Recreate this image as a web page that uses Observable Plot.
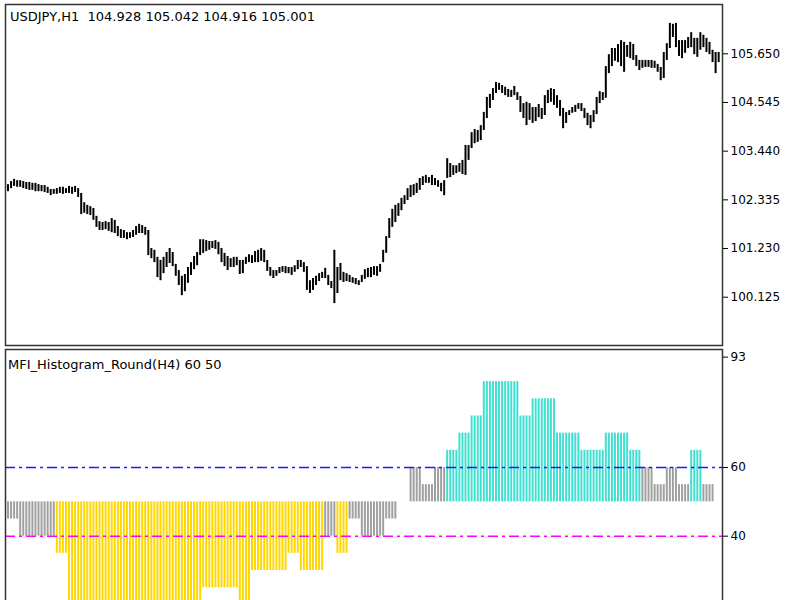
<!DOCTYPE html>
<html><head><meta charset="utf-8">
<script src="https://cdn.jsdelivr.net/npm/d3@7"></script>
<script src="https://cdn.jsdelivr.net/npm/@observablehq/plot@0.6"></script>
<style>
html,body{margin:0;padding:0;overflow:hidden;background:#fff;width:800px;height:600px}
#top{position:absolute;left:0;top:0}
#bot{position:absolute;left:0;top:346px}
.lbl{position:absolute;font-family:"DejaVu Sans",sans-serif;font-size:13px;color:#000;white-space:pre;line-height:1}
</style></head><body>
<div id="top"></div><div id="bot"></div>
<div class="lbl" id="t1" style="left:10px;top:10px"></div>
<div class="lbl" id="t2" style="left:8px;top:358px"></div>
<script>
const symbolTitle = "USDJPY,H1";
const headerOHLC = ["104.928", "105.042", "104.916", "105.001"];
const indicatorTitle = "MFI_Histogram_Round(H4) 60 50";

const highs = [
102.68,102.75,102.80,102.77,102.77,102.75,102.73,102.73,102.71,102.71,
102.68,102.66,102.66,102.62,102.57,102.57,102.59,102.62,102.62,102.59,
102.64,102.62,102.64,102.59,102.48,102.27,102.21,102.18,102.14,101.96,
101.84,101.82,101.84,101.82,101.91,101.87,101.73,101.66,101.64,101.59,
101.59,101.64,101.73,101.78,101.75,101.71,101.64,101.23,101.19,101.03,
100.96,101.03,101.14,101.23,101.14,100.87,100.73,100.60,100.64,100.80,
100.91,101.05,101.14,101.43,101.43,101.41,101.39,101.39,101.41,101.37,
101.23,101.12,101.05,101.00,101.03,101.03,100.96,100.96,101.03,101.09,
101.07,101.16,101.19,101.23,101.19,100.96,100.80,100.73,100.73,100.80,
100.82,100.82,100.80,100.80,100.84,100.96,100.96,100.91,100.82,100.50,
100.55,100.60,100.66,100.69,100.78,100.62,100.48,101.19,100.80,100.89,
100.69,100.66,100.62,100.57,100.55,100.50,100.62,100.75,100.78,100.80,
100.82,100.82,100.87,101.19,101.50,101.91,102.12,102.21,102.25,102.37,
102.43,102.59,102.66,102.68,102.71,102.82,102.86,102.89,102.84,102.89,
102.82,102.77,102.71,102.77,103.27,103.16,103.11,103.11,103.16,103.23,
103.57,103.57,103.86,103.93,103.91,104.02,104.32,104.66,104.73,104.86,
105.00,104.98,104.93,104.89,104.84,104.82,104.91,104.77,104.68,104.52,
104.55,104.52,104.43,104.43,104.50,104.41,104.70,104.82,104.86,104.84,
104.70,104.59,104.41,104.32,104.36,104.43,104.48,104.52,104.52,104.41,
104.30,104.25,104.36,104.66,104.79,104.77,105.36,105.63,105.77,105.77,
105.86,105.95,105.91,105.84,105.91,105.86,105.61,105.50,105.50,105.50,
105.50,105.50,105.48,105.41,105.34,105.68,105.88,106.34,106.32,106.34,
105.95,105.95,105.95,106.02,106.13,106.00,106.00,106.13,106.07,106.00,
105.91,105.73,105.68,105.68];

const lows = [
102.52,102.59,102.64,102.62,102.62,102.59,102.57,102.55,102.55,102.52,
102.52,102.52,102.50,102.48,102.43,102.46,102.46,102.48,102.46,102.48,
102.48,102.46,102.50,102.39,102.00,102.03,102.00,101.98,101.87,101.71,
101.64,101.64,101.66,101.62,101.59,101.57,101.50,101.46,101.46,101.43,
101.46,101.48,101.53,101.57,101.57,101.53,101.07,101.00,100.91,100.57,
100.50,100.66,100.80,100.89,100.82,100.60,100.39,100.16,100.25,100.44,
100.62,100.75,100.84,101.07,101.12,101.16,101.19,101.23,101.21,101.09,
100.91,100.82,100.73,100.80,100.80,100.84,100.64,100.66,100.87,100.91,
100.89,100.91,100.91,100.94,100.91,100.71,100.60,100.55,100.60,100.66,
100.69,100.66,100.66,100.62,100.69,100.75,100.80,100.69,100.28,100.21,
100.28,100.39,100.48,100.55,100.55,100.39,100.32,99.98,100.21,100.50,
100.46,100.48,100.46,100.44,100.41,100.39,100.46,100.53,100.57,100.57,
100.62,100.60,100.69,100.91,101.12,101.46,101.71,101.82,101.96,102.09,
102.23,102.32,102.39,102.43,102.48,102.55,102.66,102.71,102.71,102.66,
102.66,102.62,102.52,102.43,102.82,102.84,102.89,102.93,102.96,102.91,
102.89,103.23,103.50,103.61,103.64,103.68,103.91,104.18,104.41,104.59,
104.75,104.82,104.75,104.70,104.66,104.66,104.70,104.59,104.32,104.18,
104.02,104.14,104.07,104.11,104.20,104.16,104.25,104.52,104.55,104.48,
104.41,104.23,103.95,104.07,104.25,104.30,104.32,104.39,104.34,104.18,
104.02,103.95,104.09,104.27,104.52,104.59,104.64,105.20,105.36,105.48,
105.45,105.36,105.23,105.57,105.54,105.50,105.36,105.27,105.32,105.34,
105.34,105.32,105.32,105.23,105.04,105.09,105.50,105.77,106.02,105.79,
105.59,105.54,105.66,105.77,105.79,105.63,105.57,105.73,105.79,105.68,
105.63,105.45,105.20,105.45];

const priceTicks = [100.125, 101.230, 102.335, 103.440, 104.545, 105.650];

// MFI (H4), rounded to 5, one value per H4 bar (= 4 H1 bars)
const mfiH4 = [45,40,40,40,35,20,20,20,20,20,20,20,20,20,20,20,25,25,25,20,
30,30,30,35,30,30,40,35,45,40,40,45,50,60,55,60,65,70,75,85,
85,85,75,80,80,70,70,65,65,70,70,65,60,55,60,55,65,55];
const barsPerH4 = 4;
const upperLevel = 60;
const lowerLevel = 40;
const midLevel = 50;
const mfiTicks = [60, 40];
const mfiMaxTick = [93];

const colUp = "#40e0d0", colDown = "#ffd700", colFlat = "#a0a0a0";

document.getElementById("t1").textContent = symbolTitle + "  " + headerOHLC.join(" ");
document.getElementById("t2").textContent = indicatorTitle;

const bars = highs.map((h, i) => ({i, high: h, low: lows[i]}));
const hist = mfiH4.flatMap((v, g) => d3.range(barsPerH4).map(j => ({i: g * barsPerH4 + j, v})));

const xDomain = [-0.82, 234.26];
const font = {fontFamily: "DejaVu Sans, sans-serif", fontSize: "12px", color: "#000", background: "transparent", overflow: "visible"};

const priceChart = Plot.plot({
  width: 800, height: 348,
  marginLeft: 5, marginRight: 78, marginTop: 4, marginBottom: 3,
  style: font,
  x: {domain: xDomain, axis: null},
  y: {domain: [99.029, 106.769], axis: null},
  marks: [
    Plot.ruleX(bars, {x: "i", y1: "low", y2: "high", stroke: "#000", strokeWidth: 2}),
    Plot.frame({stroke: "#333", strokeWidth: 1.5}),
    Plot.axisY(priceTicks, {anchor: "right", label: null, tickSize: 5, tickPadding: 3, tickFormat: d => d.toFixed(3), stroke: "#000"})
  ]
});
document.getElementById("top").appendChild(priceChart);

const mfiChart = Plot.plot({
  width: 800, height: 260,
  marginLeft: 5, marginRight: 78, marginTop: 3, marginBottom: 0,
  style: font,
  x: {domain: xDomain, axis: null},
  y: {domain: [19.53, 94.35], axis: null, label: null},
  marks: [
    Plot.ruleX(hist, {x: "i", y1: midLevel, y2: "v", strokeWidth: 2,
      stroke: d => d.v > upperLevel ? colUp : d.v < lowerLevel ? colDown : colFlat}),
    Plot.ruleY([upperLevel], {stroke: "#1a1aff", strokeWidth: 1.5, strokeDasharray: "10,4,3,4"}),
    Plot.ruleY([lowerLevel], {stroke: "#ff00ff", strokeWidth: 1.5, strokeDasharray: "10,4,3,4"}),
    Plot.frame({stroke: "#333", strokeWidth: 1.5}),
    Plot.axisY(mfiTicks, {anchor: "right", label: null, tickSize: 5, tickPadding: 3, stroke: "#000"}),
    Plot.axisY(mfiMaxTick, {anchor: "right", label: null, tickSize: 5, tickPadding: 3, dy: 3, stroke: "#000"})
  ]
});
document.getElementById("bot").appendChild(mfiChart);
</script>
</body></html>
